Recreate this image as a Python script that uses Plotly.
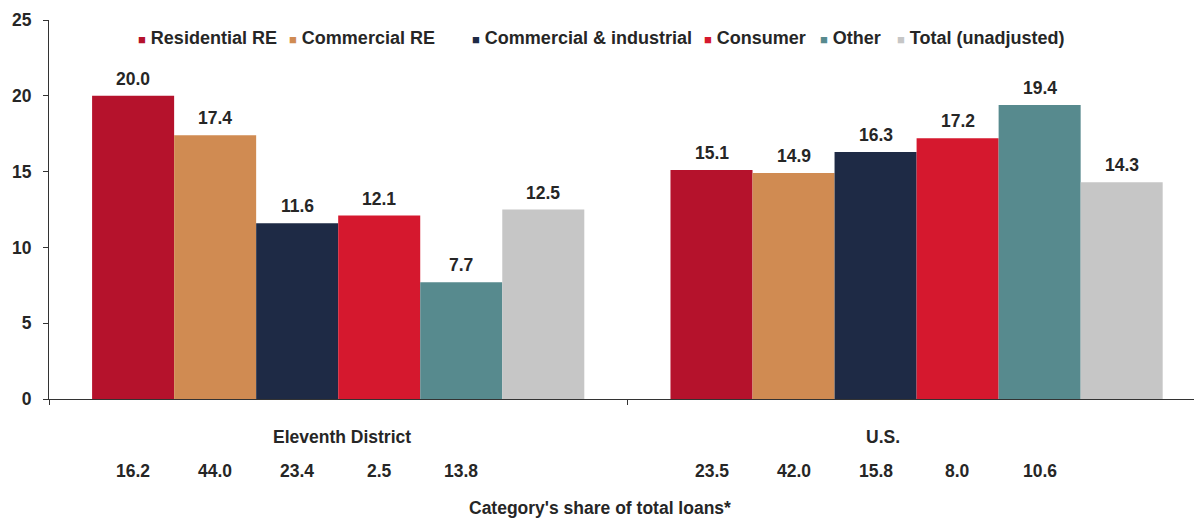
import plotly.graph_objects as go

groups = ["Eleventh District", "U.S."]
series = ["Residential RE", "Commercial RE", "Commercial & industrial", "Consumer", "Other", "Total (unadjusted)"]
colors = ["#B5122C", "#D08B52", "#1E2A45", "#D5182E", "#578A8E", "#C6C6C6"]

eleventh = [20.0, 17.4, 11.6, 12.1, 7.7, 12.5]
us = [15.1, 14.9, 16.3, 17.2, 19.4, 14.3]

share_eleventh = ["16.2", "44.0", "23.4", "2.5", "13.8"]
share_us = ["23.5", "42.0", "15.8", "8.0", "10.6"]

# left edge of each legend entry, as a fraction of the plot width
legend_x = [0.0756, 0.2068, 0.3658, 0.5673, 0.6681, 0.7350]

FONT = "Liberation Sans, Arial, sans-serif"
TXT = dict(size=17.5, color="#262626", family=FONT, weight="bold")
gap = 0.149
n = len(series)
w = (1 - gap) / n
offsets = [-(1 - gap) / 2 + (j + 0.5) * w for j in range(n)]

fig = go.Figure()
for j, name in enumerate(series):
    fig.add_trace(go.Bar(
        x=[0, 1], y=[eleventh[j], us[j]], name=name,
        marker=dict(color=colors[j], line=dict(width=0)),
        showlegend=False,
    ))

annotations = []
# value labels above bars
for g, vals in enumerate([eleventh, us]):
    for j, v in enumerate(vals):
        annotations.append(dict(
            x=g + offsets[j], y=v, xref="x", yref="y", text=f"{v:.1f}",
            showarrow=False, yanchor="bottom", yshift=5, font=TXT,
        ))

# share of total loans row
for g, shares in enumerate([share_eleventh, share_us]):
    for j, s in enumerate(shares):
        annotations.append(dict(
            x=g + offsets[j], y=-0.19, xref="x", yref="paper", text=s,
            showarrow=False, yanchor="middle", font=TXT,
        ))

annotations.append(dict(x=0, y=-0.10, xref="x", yref="paper", text=groups[0], xshift=4,
                        showarrow=False, yanchor="middle", font=TXT))
annotations.append(dict(x=1, y=-0.10, xref="x", yref="paper", text=groups[1], xshift=-34,
                        showarrow=False, yanchor="middle", font=TXT))
annotations.append(dict(x=0.479, y=-0.288, xref="paper", yref="paper",
                        text="Category's share of total loans*",
                        showarrow=False, yanchor="middle", font=TXT))

# legend entries (small squares like the original)
for c, name, lx in zip(colors, series, legend_x):
    annotations.append(dict(
        x=lx, y=0.9525, xref="paper", yref="paper",
        text=f"<span style='color:{c};font-size:13px'>■</span>&nbsp;{name}",
        xanchor="left", yanchor="middle", showarrow=False,
        font=dict(size=18, color="#262626", family=FONT, weight="bold"),
    ))

fig.update_layout(
    width=1194, height=513,
    barmode="group", bargap=gap, bargroupgap=0,
    paper_bgcolor="white", plot_bgcolor="white",
    margin=dict(l=41, r=2, t=12, b=122),
    font=dict(family=FONT, size=17.5, color="#262626"),
    showlegend=False,
    annotations=annotations,
)
fig.update_xaxes(range=[-0.5, 1.49], tickvals=[-0.5, 0.5, 1.5], ticktext=["", "", ""],
                 ticks="outside", ticklen=5, tickcolor="#333", showline=True, linecolor="#333",
                 linewidth=1, showgrid=False, zeroline=False)
fig.update_yaxes(range=[0, 25], dtick=5, ticks="outside", ticklen=5, tickcolor="#333",
                 showline=True, linecolor="#333", linewidth=1, showgrid=False, zeroline=False,
                 ticklabelstandoff=8, tickfont=TXT)

fig.write_html("out.html")
